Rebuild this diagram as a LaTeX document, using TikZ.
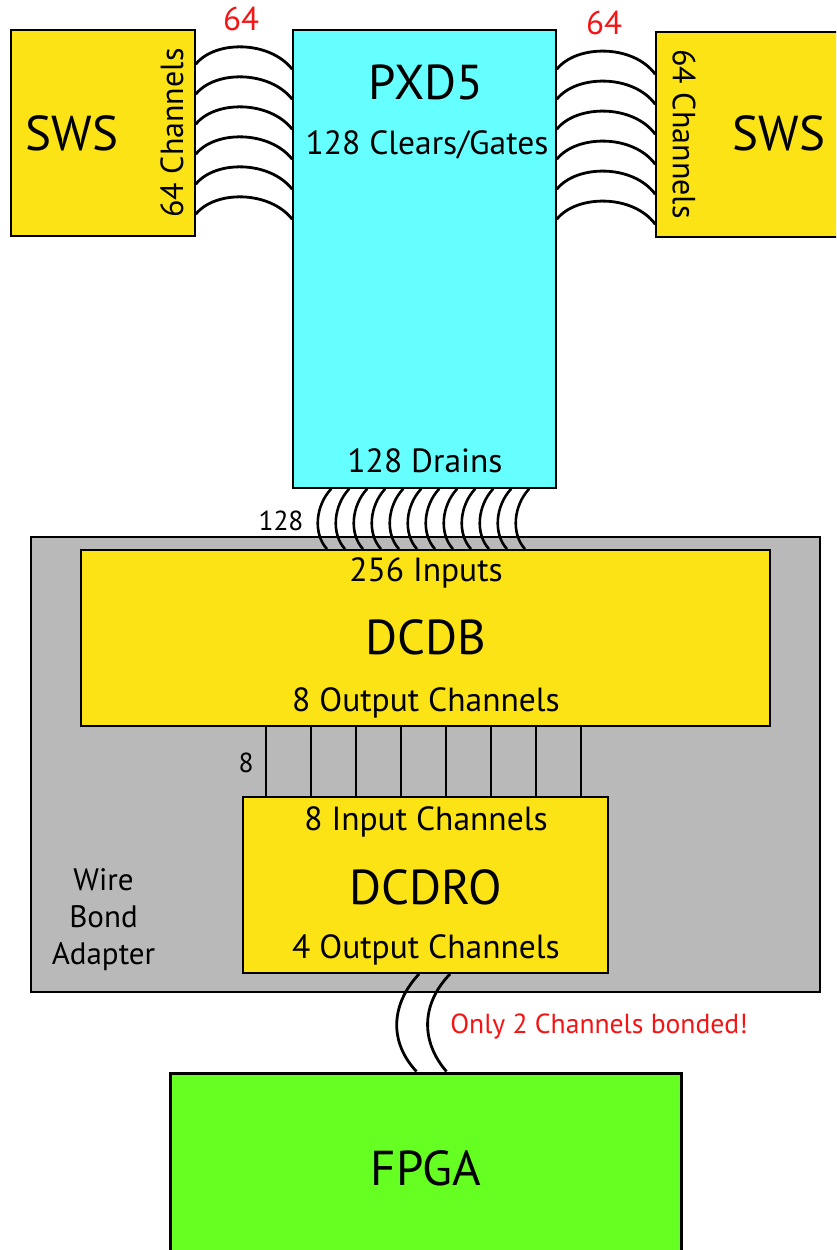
\documentclass[tikz,border=0pt]{standalone}
\usepackage{fontspec}
\setmainfont{PT Sans}
\usetikzlibrary{calc}
\definecolor{swsyellow}{RGB}{252,227,22}
\definecolor{pxdcyan}{RGB}{102,255,255}
\definecolor{fpgagreen}{RGB}{102,255,34}
\definecolor{adaptergray}{RGB}{185,185,185}
\definecolor{notered}{RGB}{245,20,20}
\begin{document}
\begin{tikzpicture}[x=1pt,y=-1pt,
  box/.style={draw=black,inner sep=0pt,line width=1.5pt},
  wire/.style={draw=black,line width=2.8pt},
  big/.style={inner sep=0pt,anchor=base,font=\fontsize{49}{49}\selectfont},
  mid/.style={inner sep=0pt,anchor=base,font=\fontsize{33.5}{33.5}\selectfont},
  side/.style={inner sep=0pt,font=\fontsize{32}{32}\selectfont},
  small/.style={inner sep=0pt,anchor=base,font=\fontsize{27.5}{27.5}\selectfont},
  wba/.style={inner sep=0pt,anchor=base,font=\fontsize{31}{31}\selectfont},
  rednote/.style={inner sep=0pt,anchor=base,text=notered,font=\fontsize{27.6}{27.6}\selectfont},
  redcount/.style={inner sep=0pt,anchor=base,text=notered,font=\fontsize{33}{33}\selectfont}]
\useasboundingbox (0,0) rectangle (836,1250);
\clip (0,0) rectangle (836,1250);
% boxes
\node[box,fill=swsyellow,minimum width=184pt,minimum height=206pt] (swsL) at (103,133) {};
\node[box,fill=swsyellow,minimum width=190pt,minimum height=205pt] (swsR) at (751,134.5) {};
\node[box,fill=pxdcyan,minimum width=263pt,minimum height=458pt] (pxd) at (424.5,259) {};
\node[box,fill=adaptergray,minimum width=789pt,minimum height=455pt] (wbabox) at (425.5,764.5) {};
\node[box,fill=swsyellow,line width=2pt,minimum width=689pt,minimum height=176pt] (dcdb) at (425.5,638) {};
\node[box,fill=swsyellow,line width=2pt,minimum width=365pt,minimum height=176pt] (dcdro) at (425.5,885) {};
\node[box,fill=fpgagreen,line width=3pt,minimum width=511pt,minimum height=200pt] (fpga) at (425.5,1173) {};
% SWS - PXD5 wires
\foreach \k in {0,...,5}{
  \draw[wire] ([yshift={-(35+30*\k)*1pt}]swsL.north east) .. controls +(19,-24) and +(-23,-29) .. ([yshift={-(40+30*\k)*1pt}]pxd.north west);
  \draw[wire] ([yshift={-(40+30*\k)*1pt}]pxd.north east) .. controls +(20,-25) and +(-22,-30) .. ([yshift={-(43+30*\k)*1pt}]swsR.north west);
}
% drains
\foreach \k in {0,...,11}{
  \draw[wire,line width=2.6pt] ([xshift={(39+18*\k)*1pt}]pxd.south west) .. controls +(-16,17) and +(-14,-15) .. ([xshift={(247+18*\k)*1pt}]dcdb.north west);
}
% DCDB - DCDRO
\foreach \k in {0,...,7}{
  \draw[wire] ([xshift={(186+45*\k)*1pt}]dcdb.south west) -- ([xshift={(24+45*\k)*1pt}]dcdro.north west);
}
% DCDRO - FPGA
\draw[wire] ([xshift=177pt]dcdro.south west) .. controls +(-28,30) and +(-28,-30) .. ([xshift=248pt]fpga.north west);
\draw[wire] ([xshift=208pt]dcdro.south west) .. controls +(-29,30) and +(-26,-30) .. ([xshift=278pt]fpga.north west);
% texts
\node[big] (tswsL) at (72,150) {SWS};
\node[big] (tswsR) at (779,150) {SWS};
\node[side,rotate=90] (tchL) at (172,133) {64 Channels};
\node[side,rotate=-90] (tchR) at (684,134) {64 Channels};
\node[redcount] (n64L) at (241,30) {64};
\node[redcount] (n64R) at (604,34) {64};
\node[big] (tpxd) at (426,99) {PXD5};
\node[mid] (tcg) at (427,154) {128 Clears/Gates};
\node[mid] (tdr) at (425,472) {128 Drains};
\node[small] (n128) at (281,530) {128};
\node[mid] (tin) at (426,581) {256 Inputs};
\node[big] (tdcdb) at (426,654) {DCDB};
\node[mid] (tout) at (426,711) {8 Output Channels};
\node[small] (n8) at (246,772) {8};
\node[mid] (tin8) at (426,830) {8 Input Channels};
\node[big] (tdcdro) at (426,904) {DCDRO};
\node[mid] (tout4) at (426,958) {4 Output Channels};
\node[wba] (twire) at (103.5,890) {Wire};
\node[wba] (tbond) at (103.5,927) {Bond};
\node[wba] (tadapter) at (103.5,964) {Adapter};
\node[rednote] (tonly) at (599,1033) {Only 2 Channels bonded!};
\node[big] (tfpga) at (426,1185) {FPGA};
\end{tikzpicture}
\end{document}
